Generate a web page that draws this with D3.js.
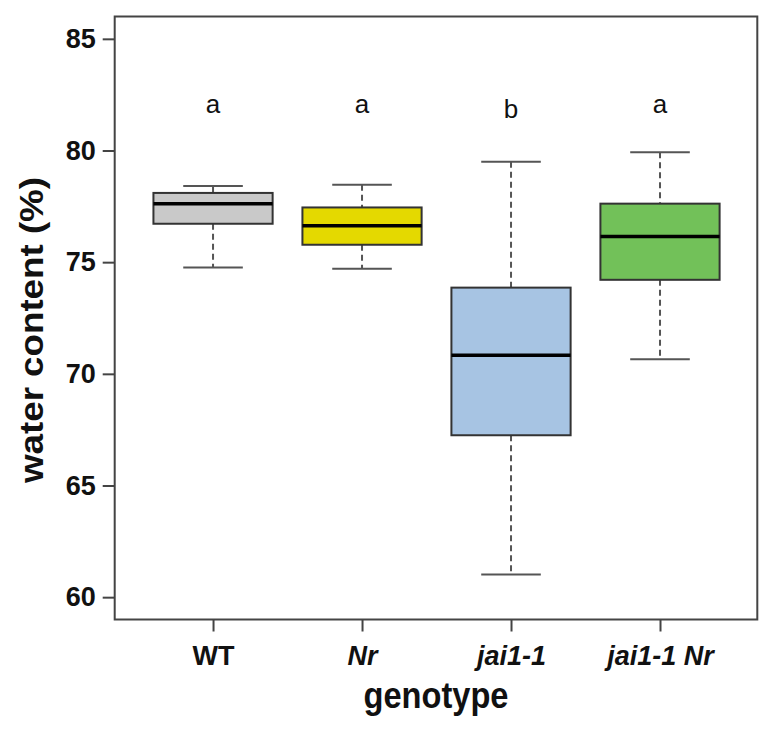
<!DOCTYPE html>
<html><head><meta charset="utf-8">
<script src="https://cdn.jsdelivr.net/npm/d3@7"></script>
<style>body{margin:0;background:#fff}svg{display:block}</style>
</head><body>
<script>
const categories = ["WT", "Nr", "jai1-1", "jai1-1 Nr"];
const italicLabel = [false, true, true, true];
const whiskerLow  = [74.76, 74.70, 61.02, 70.65];
const q1          = [76.72, 75.78, 67.25, 74.21];
const medians     = [77.62, 76.63, 70.83, 76.15];
const q3          = [78.10, 77.45, 73.86, 77.62];
const whiskerHigh = [78.41, 78.47, 79.50, 79.92];
const letters     = ["a", "a", "b", "a"];
const fills       = ["#c9c9c9", "#e4d900", "#a7c4e3", "#72c159"];
const yTicks      = [60, 65, 70, 75, 80, 85];

(function () {
const W = 771, H = 730;
const pL = 114.7, pR = 757.3, pT = 16.5, pB = 619.5;
const svg = d3.select("body").append("svg").attr("width", W).attr("height", H);

const x = d3.scaleLinear().domain([0.34, 4.653]).range([pL, pR]);
const y = d3.scaleLinear().domain([59, 86]).range([pB, pT]);
const unit = x(1) - x(0);
const boxW = 0.8 * unit, capW = 0.4 * unit;

const font = "'Liberation Sans', Arial, sans-serif";
const data = categories.map((c, i) => ({c, i, lo: whiskerLow[i], q1: q1[i], med: medians[i], q3: q3[i], hi: whiskerHigh[i], fill: fills[i], letter: letters[i]}));

const g = svg.append("g");
const lineCol = "#555";
data.forEach(d => {
  const cx = x(d.i + 1);
  g.append("line").attr("x1", cx).attr("x2", cx).attr("y1", y(d.hi)).attr("y2", y(d.q3))
    .attr("stroke", lineCol).attr("stroke-width", 2).attr("stroke-dasharray", "6,4");
  g.append("line").attr("x1", cx).attr("x2", cx).attr("y1", y(d.q1)).attr("y2", y(d.lo))
    .attr("stroke", lineCol).attr("stroke-width", 2).attr("stroke-dasharray", "6,4");
  g.append("line").attr("x1", cx - capW/2).attr("x2", cx + capW/2).attr("y1", y(d.hi)).attr("y2", y(d.hi))
    .attr("stroke", lineCol).attr("stroke-width", 2);
  g.append("line").attr("x1", cx - capW/2).attr("x2", cx + capW/2).attr("y1", y(d.lo)).attr("y2", y(d.lo))
    .attr("stroke", lineCol).attr("stroke-width", 2);
  g.append("rect").attr("x", cx - boxW/2).attr("width", boxW).attr("y", y(d.q3)).attr("height", y(d.q1) - y(d.q3))
    .attr("fill", d.fill).attr("stroke", "#333").attr("stroke-width", 2);
  g.append("line").attr("x1", cx - boxW/2).attr("x2", cx + boxW/2).attr("y1", y(d.med)).attr("y2", y(d.med))
    .attr("stroke", "#000").attr("stroke-width", 3.5);
  g.append("text").attr("x", cx).attr("y", y(82) + (d.letter === "b" ? 12 : 7))
    .attr("text-anchor", "middle").attr("font-family", font).attr("font-size", 26)
    .attr("fill", "#111").text(d.letter);
});

svg.append("rect").attr("x", pL).attr("y", pT).attr("width", pR - pL).attr("height", pB - pT)
  .attr("fill", "none").attr("stroke", "#444").attr("stroke-width", 2);

const yAxis = svg.append("g").attr("transform", `translate(${pL},0)`)
  .call(d3.axisLeft(y).tickValues(yTicks).tickSize(12).tickPadding(7).tickFormat(d3.format("d")));
yAxis.select(".domain").remove();
yAxis.selectAll(".tick line").attr("stroke", "#444").attr("stroke-width", 2);
yAxis.selectAll(".tick text").attr("font-family", font).attr("font-size", 27).attr("font-weight", "bold").attr("fill", "#111");

const xAxis = svg.append("g").attr("transform", `translate(0,${pB})`)
  .call(d3.axisBottom(x).tickValues([1,2,3,4]).tickSize(12).tickPadding(14).tickFormat(d => categories[d-1]));
xAxis.select(".domain").remove();
xAxis.selectAll(".tick line").attr("stroke", "#444").attr("stroke-width", 2);
xAxis.selectAll(".tick text").attr("font-family", font).attr("font-size", 27).attr("font-weight", "bold").attr("fill", "#111")
  .attr("font-style", d => italicLabel[d-1] ? "italic" : "normal");

svg.append("text").attr("x", (pL + pR) / 2).attr("y", 708).attr("text-anchor", "middle")
  .attr("font-family", font).attr("font-size", 36).attr("font-weight", "bold").attr("fill", "#111")
  .attr("textLength", 145).attr("lengthAdjust", "spacingAndGlyphs").text("genotype");
svg.append("text").attr("transform", `translate(43,${(177+483)/2}) rotate(-90)`).attr("text-anchor", "middle")
  .attr("font-family", font).attr("font-size", 34).attr("font-weight", "bold").attr("fill", "#111")
  .attr("textLength", 306).attr("lengthAdjust", "spacingAndGlyphs").text("water content (%)");
})();
</script>
</body></html>
